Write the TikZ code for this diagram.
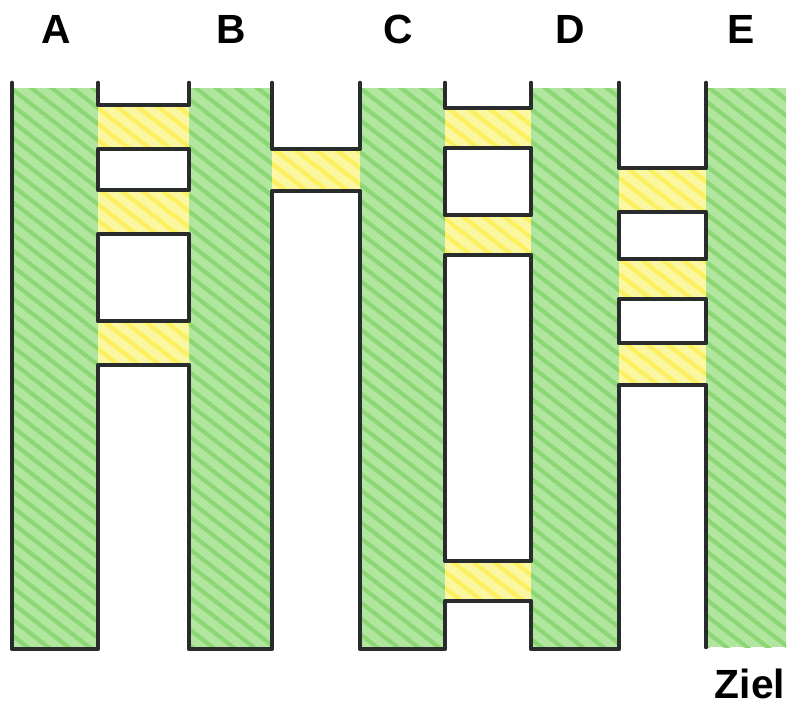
\documentclass[tikz,border=0pt]{standalone}
\usepackage{fontspec}
\setsansfont{Liberation Sans}
\usetikzlibrary{patterns.meta}
\definecolor{LeafGreen}{RGB}{176, 230, 158}
\definecolor{LeafDark}{RGB}{140, 214, 118}
\definecolor{RungYellow}{RGB}{250, 247, 160}
\definecolor{RungDark}{RGB}{252, 240, 95}
\definecolor{Ink}{RGB}{40, 44, 44}
\tikzset{
  lane/.style={fill=LeafGreen, postaction={pattern={Lines[angle=-38, distance=9pt, line width=3pt]}, pattern color=LeafDark}},
  rung/.style={fill=RungYellow, postaction={pattern={Lines[angle=-38, distance=9pt, line width=3pt]}, pattern color=RungDark}},
  ink/.style={draw=Ink, line width=3.3pt, line cap=round, line join=round},
  lettertag/.style={font=\sffamily\bfseries\fontsize{29}{30}\selectfont, anchor=base}
}

\begin{document}
\begin{tikzpicture}[x=0.025cm, y=-0.025cm]
  \useasboundingbox (0,0) rectangle (787,706);

  % Green lanes
  \foreach \l/\r in {12/98, 189/272, 360/445, 531/619}
    \fill[lane] (\l,88) rectangle (\r,649);
  \fill[lane] (706,88) rectangle (786,647);

  % Yellow rungs
  \foreach \l/\r/\t/\b in {98/189/105/149, 98/189/190/234, 98/189/321/365,
                           272/360/149/191,
                           445/531/108/148, 445/531/215/255, 445/531/561/601,
                           619/706/168/212, 619/706/259/299, 619/706/343/385}
    \fill[rung] (\l,\t) rectangle (\r,\b);

  % Outline: open tops
  \draw[ink] (98,83) -- (98,105) -- (189,105) -- (189,83);
  \draw[ink] (272,83) -- (272,149) -- (360,149) -- (360,83);
  \draw[ink] (445,83) -- (445,108) -- (531,108) -- (531,83);
  \draw[ink] (619,83) -- (619,168) -- (706,168) -- (706,83);

  % Outline: closed gaps between rungs
  \draw[ink] (98,149) rectangle (189,190);
  \draw[ink] (98,234) rectangle (189,321);
  \draw[ink] (445,148) rectangle (531,215);
  \draw[ink] (445,255) rectangle (531,561);
  \draw[ink] (619,212) rectangle (706,259);
  \draw[ink] (619,299) rectangle (706,343);

  % Outline: lower part
  \draw[ink] (12,83) -- (12,649) -- (98,649) -- (98,365) -- (189,365) -- (189,649)
    -- (272,649) -- (272,191) -- (360,191) -- (360,649) -- (445,649) -- (445,601)
    -- (531,601) -- (531,649) -- (619,649) -- (619,385) -- (706,385) -- (706,647);

  % Labels
  \node[lettertag] (labA) at (56,43) {A};
  \node[lettertag] (labB) at (231,43) {B};
  \node[lettertag] (labC) at (398,43) {C};
  \node[lettertag] (labD) at (570,43) {D};
  \node[lettertag] (labE) at (741,43) {E};
  \node[lettertag] (goal) at (750,698) {Ziel};
\end{tikzpicture}
\end{document}
